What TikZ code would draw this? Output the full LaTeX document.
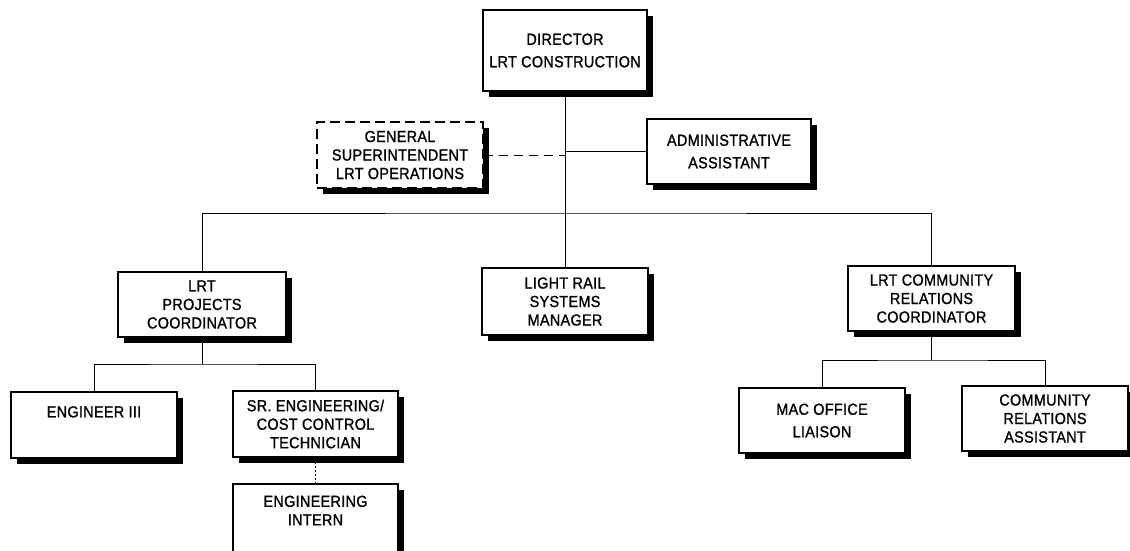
\documentclass[tikz,border=0pt]{standalone}
\usepackage{fontspec}
\setmainfont{Liberation Sans}[FakeStretch=0.9, LetterSpace=2, FakeBold=1.2]
\usetikzlibrary{shadows}
\begin{document}
\begin{tikzpicture}[x=1pt,y=-1pt,
  orgbox/.style={draw, fill=white, line width=1.1pt, inner sep=0pt,
    minimum width=166pt, minimum height=66pt, align=center,
    font=\fontsize{16}{18.5}\selectfont,
    drop shadow={shadow xshift=6pt, shadow yshift=-6pt, fill=black, opacity=1}},
  link/.style={line width=0.9pt},
  dashlink/.style={line width=0.9pt, dash pattern=on 9pt off 6pt},
  dotlink/.style={line width=0.8pt, dash pattern=on 2pt off 2pt}]
\useasboundingbox (0,0) rectangle (1130,550);
\clip (0,0) rectangle (1130,550);
\fill[white] (0,0) rectangle (1130,550);

% top level
\node[orgbox, minimum width=164pt, minimum height=81pt] (dir) at (565,50.5)
  {DIRECTOR\\[4pt]LRT CONSTRUCTION};
\node[orgbox, dash pattern=on 10pt off 5pt] (gen) at (400,155)
  {GENERAL\\SUPERINTENDENT\\LRT OPERATIONS};
\node[orgbox, minimum width=164pt, minimum height=65pt] (adm) at (729,151.5)
  {ADMINISTRATIVE\\[4pt]ASSISTANT};

% second level
\node[orgbox, minimum width=168pt, minimum height=65pt] (lpc) at (202,304.5)
  {LRT\\PROJECTS\\COORDINATOR};
\node[orgbox, minimum height=67pt] (lrs) at (565,301.5)
  {LIGHT RAIL\\SYSTEMS\\MANAGER};
\node[orgbox, minimum width=167pt, minimum height=65pt] (lrcc) at (931.5,298.5)
  {LRT COMMUNITY\\RELATIONS\\COORDINATOR};

% third level
\node[orgbox] (eng) at (94,425) {ENGINEER III\\[8pt]~};
\node[orgbox, minimum width=165pt] (sr) at (315.5,424)
  {SR. ENGINEERING/\\COST CONTROL\\TECHNICIAN};
\node[orgbox, minimum width=165pt, minimum height=90pt] (int) at (315.5,529)
  {ENGINEERING\\INTERN\\~\\~};
\node[orgbox, minimum height=65pt] (mac) at (822,420.5)
  {MAC OFFICE\\[4pt]LIAISON};
\node[orgbox, minimum height=65pt] (cra) at (1045,418.5)
  {COMMUNITY\\RELATIONS\\ASSISTANT};

% junction points
\coordinate (bus) at (565,213);
\coordinate (lb) at (202,364);
\coordinate (rb) at (931.5,360);

% connectors
\draw[link] (dir.south) -- (lrs.north);
\draw[link] (adm.west) -- (adm.west -| dir.south);
\draw[dashlink] (gen.east) -- (gen.east -| dir.south);
\draw[link] (lpc.north) |- (bus) -| (lrcc.north);
\draw[link] (lpc.south) -- (lb);
\draw[link] (eng.north) |- (lb) -| (sr.north);
\draw[dotlink] (sr.south) -- (int.north);
\draw[link] (lrcc.south) -- (rb);
\draw[link] (mac.north) |- (rb) -| (cra.north);
\end{tikzpicture}
\end{document}
